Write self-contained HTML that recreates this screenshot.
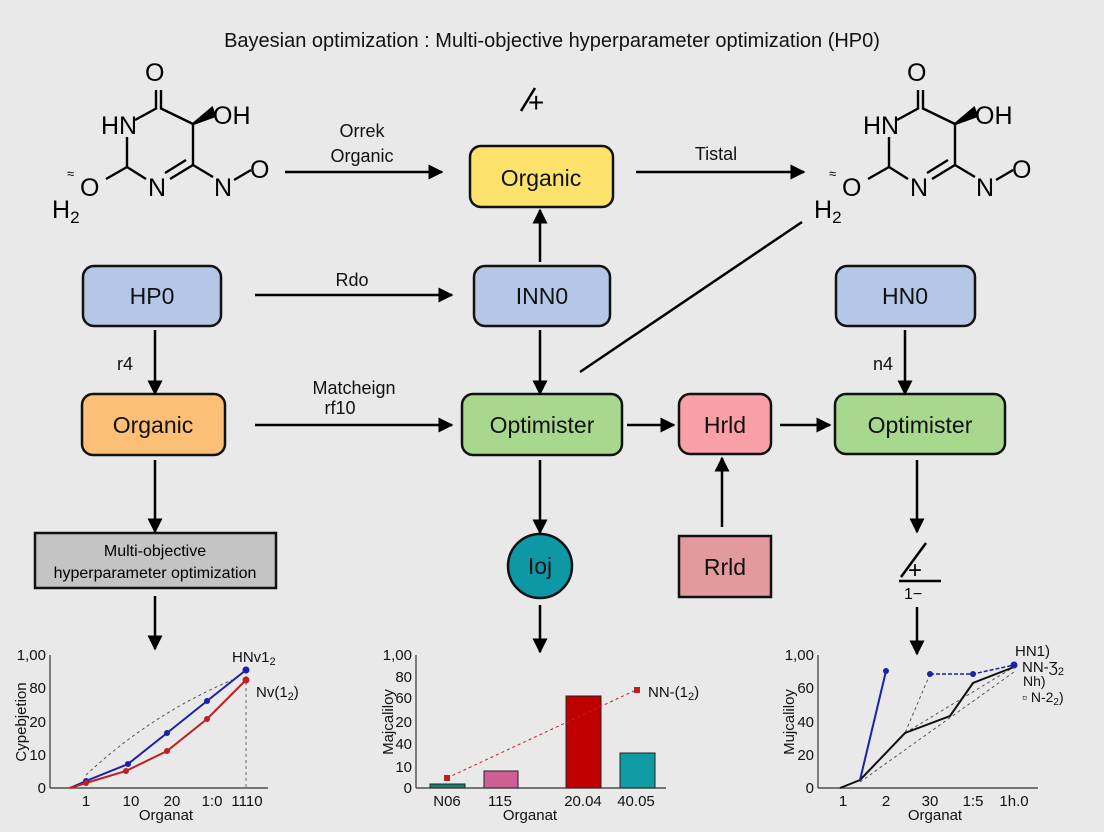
<!DOCTYPE html>
<html><head><meta charset="utf-8"><style>
html,body{margin:0;padding:0;background:#e9e9e9;}
svg{display:block;font-family:"Liberation Sans",sans-serif;}
</style></head><body>
<svg width="1104" height="832" viewBox="0 0 1104 832" xmlns="http://www.w3.org/2000/svg">
<defs>
<marker id="a" viewBox="0 0 10 10" refX="9" refY="5" markerWidth="6" markerHeight="6" orient="auto"><path d="M0,0L10,5L0,10z" fill="#000"/></marker>
</defs>
<rect width="1104" height="832" fill="#e9e9e9"/>
<text x="552" y="47" font-size="20" text-anchor="middle" fill="#111">Bayesian optimization : Multi-objective hyperparameter optimization (HP0)</text>

<g id="mol" stroke="#000" stroke-width="2.4" fill="none">
<line x1="156" y1="90" x2="156" y2="108"/><line x1="161" y1="90" x2="161" y2="108"/>
<line x1="157" y1="108" x2="135" y2="120"/>
<line x1="160" y1="108" x2="193" y2="124"/>
<line x1="193" y1="124" x2="193" y2="165"/>
<line x1="193" y1="165" x2="170" y2="179"/><line x1="186" y1="160" x2="165" y2="173"/>
<line x1="146" y1="179" x2="127" y2="167"/>
<line x1="127" y1="167" x2="127" y2="137"/>
<line x1="127" y1="167" x2="106" y2="179"/>
<line x1="193" y1="165" x2="213" y2="177"/>
<line x1="234" y1="180" x2="251" y2="170"/>
<polygon points="193,124 212,108 215,116" fill="#000"/>
</g>
<g font-size="25" fill="#000">
<text x="145" y="81">O</text><text x="101" y="134">HN</text><text x="213" y="124">OH</text>
<text x="148" y="196">N</text><text x="80" y="196">O</text><text x="214" y="196">N</text>
<text x="250" y="178">O</text><text x="52" y="218">H<tspan font-size="17" dy="5">2</tspan></text>
<text x="67" y="178" font-size="13">≈</text>
</g>
<use href="#mol" x="762"/>
<g font-size="25" fill="#000">
<text x="907" y="81">O</text><text x="863" y="134">HN</text><text x="975" y="124">OH</text>
<text x="910" y="196">N</text><text x="842" y="196">O</text><text x="976" y="196">N</text>
<text x="1012" y="178">O</text><text x="814" y="218">H<tspan font-size="17" dy="5">2</tspan></text>
<text x="829" y="178" font-size="13">≈</text>
</g>

<g stroke="#000" stroke-width="2.5"><line x1="521" y1="111" x2="535" y2="88"/></g>
<text x="528" y="112" font-size="28">+</text>

<g stroke="#111" stroke-width="2.5">
<rect x="470" y="146" width="143" height="61" rx="11" fill="#fde36b"/>
<rect x="83" y="266" width="138" height="60" rx="11" fill="#b4c7e7"/>
<rect x="474" y="266" width="136" height="60" rx="11" fill="#b4c7e7"/>
<rect x="836" y="266" width="139" height="60" rx="11" fill="#b4c7e7"/>
<rect x="82" y="394" width="143" height="61" rx="11" fill="#fbbf75"/>
<rect x="462" y="394" width="160" height="61" rx="11" fill="#a8d88e"/>
<rect x="679" y="394" width="92" height="60" rx="11" fill="#f9a0a6"/>
<rect x="835" y="394" width="170" height="60" rx="11" fill="#a8d88e"/>
<rect x="35" y="533" width="241" height="55" fill="#c4c4c4"/>
<circle cx="540" cy="566" r="32" fill="#0e97a5"/>
<rect x="679" y="536" width="92" height="61" fill="#e29a9c"/>
</g>
<g font-size="23" text-anchor="middle" fill="#111">
<text x="541" y="186">Organic</text>
<text x="152" y="304">HP0</text>
<text x="542" y="304">INN0</text>
<text x="905" y="304">HN0</text>
<text x="153" y="433">Organic</text>
<text x="542" y="433">Optimister</text>
<text x="725" y="433">Hrld</text>
<text x="920" y="433">Optimister</text>
<text x="540" y="574">Ioj</text>
<text x="725" y="575">Rrld</text>
</g>
<text x="155" y="556" font-size="16" text-anchor="middle">Multi-objective</text>
<text x="155" y="578" font-size="16" text-anchor="middle">hyperparameter optimization</text>

<g stroke="#000" stroke-width="2.5" marker-end="url(#a)">
<line x1="285" y1="172" x2="442" y2="172"/>
<line x1="636" y1="172" x2="804" y2="172"/>
<line x1="255" y1="295" x2="452" y2="295"/>
<line x1="540" y1="262" x2="540" y2="210"/>
<line x1="540" y1="330" x2="540" y2="394"/>
<line x1="155" y1="330" x2="155" y2="394"/>
<line x1="905" y1="330" x2="905" y2="394"/>
<line x1="255" y1="425" x2="452" y2="425"/>
<line x1="627" y1="425" x2="674" y2="425"/>
<line x1="780" y1="425" x2="830" y2="425"/>
<line x1="155" y1="460" x2="155" y2="532"/>
<line x1="540" y1="460" x2="540" y2="533"/>
<line x1="722" y1="527" x2="722" y2="458"/>
<line x1="917" y1="460" x2="917" y2="532"/>
<line x1="155" y1="596" x2="155" y2="649"/>
<line x1="540" y1="605" x2="540" y2="652"/>
<line x1="917" y1="607" x2="917" y2="654"/>
</g>
<line x1="580" y1="372" x2="802" y2="222" stroke="#000" stroke-width="2.5"/>
<g font-size="18" fill="#111" text-anchor="middle">
<text x="362" y="137">Orrek</text><text x="362" y="162">Organic</text>
<text x="716" y="160">Tistal</text>
<text x="352" y="286">Rdo</text>
<text x="354" y="394">Matcheign</text><text x="340" y="414">rf10</text>
<text x="125" y="370">r4</text><text x="883" y="370">n4</text>
</g>
<g stroke="#000" stroke-width="2.5"><line x1="901" y1="577" x2="926" y2="543"/><line x1="899" y1="581" x2="941" y2="581"/></g>
<text x="908" y="578" font-size="24">+</text>
<text x="904" y="599" font-size="16">1−</text>

<g font-size="15" fill="#111">
<line x1="50" y1="655" x2="50" y2="788" stroke="#333" stroke-width="1.2"/>
<line x1="50" y1="788" x2="268" y2="788" stroke="#333" stroke-width="1.2"/>
<g text-anchor="end"><text x="46" y="660">1,00</text><text x="46" y="693">80</text><text x="46" y="727">20</text><text x="46" y="760">10</text><text x="46" y="793">0</text></g>
<g text-anchor="middle"><text x="86" y="806">1</text><text x="131" y="806">10</text><text x="172" y="806">20</text><text x="212" y="806">1:0</text><text x="247" y="806">1110</text>
<text x="166" y="820">Organat</text></g>
<text transform="translate(26,722) rotate(-90)" text-anchor="middle">Cypebjetion</text>
<path d="M86,775 Q150,715 232,680" stroke="#555" stroke-dasharray="3,3" fill="none"/>
<line x1="246" y1="670" x2="246" y2="788" stroke="#666" stroke-dasharray="3,3"/>
<polyline points="70,788 86,781 128,764 167,733 207,701 246,670" stroke="#1a22a8" stroke-width="2" fill="none"/>
<polyline points="70,788 86,783 126,771 167,751 207,719 246,680" stroke="#c01f1f" stroke-width="2" fill="none"/>
<g fill="#1a22a8"><circle cx="86" cy="781" r="3"/><circle cx="128" cy="764" r="3"/><circle cx="167" cy="733" r="3"/><circle cx="207" cy="701" r="3"/><circle cx="246" cy="670" r="3.5"/></g>
<g fill="#c01f1f"><circle cx="86" cy="783" r="3"/><circle cx="126" cy="771" r="3"/><circle cx="167" cy="751" r="3"/><circle cx="207" cy="719" r="3"/><circle cx="246" cy="680" r="3.5"/></g>
<text x="232" y="662">HNv1<tspan font-size="11" dy="3">2</tspan></text>
<text x="256" y="697">Nv(1<tspan font-size="11" dy="3">2</tspan><tspan dy="-3">)</tspan></text>
</g>

<g font-size="15" fill="#111">
<line x1="416" y1="655" x2="416" y2="788" stroke="#333" stroke-width="1.2"/>
<line x1="416" y1="788" x2="666" y2="788" stroke="#333" stroke-width="1.2"/>
<g text-anchor="end"><text x="412" y="660">1,00</text><text x="412" y="682">80</text><text x="412" y="703">60</text><text x="412" y="727">20</text><text x="412" y="749">40</text><text x="412" y="772">10</text><text x="412" y="793">0</text></g>
<rect x="430" y="784" width="35" height="4" fill="#1e7d6e" stroke="#222"/>
<rect x="484" y="771" width="34" height="17" fill="#cf5f92" stroke="#222"/>
<rect x="566" y="696" width="35" height="92" fill="#c00000" stroke="#222"/>
<rect x="620" y="753" width="35" height="35" fill="#109aa3" stroke="#222"/>
<line x1="447" y1="778" x2="636" y2="690" stroke="#c01f1f" stroke-dasharray="3,3"/>
<rect x="444" y="775" width="6" height="6" fill="#c01f1f"/><rect x="634" y="687" width="6" height="6" fill="#c01f1f"/>
<text x="648" y="697">NN-(1<tspan font-size="11" dy="3">2</tspan><tspan dy="-3">)</tspan></text>
<g text-anchor="middle"><text x="447" y="806">N06</text><text x="500" y="806">115</text><text x="583" y="806">20.04</text><text x="636" y="806">40.05</text><text x="530" y="820">Organat</text></g>
<text transform="translate(393,722) rotate(-90)" text-anchor="middle">Majcaliloy</text>
</g>

<g font-size="15" fill="#111">
<line x1="818" y1="655" x2="818" y2="788" stroke="#333" stroke-width="1.2"/>
<line x1="818" y1="788" x2="1038" y2="788" stroke="#333" stroke-width="1.2"/>
<g text-anchor="end"><text x="814" y="660">1,00</text><text x="814" y="693">60</text><text x="814" y="727">40</text><text x="814" y="760">20</text><text x="814" y="793">0</text></g>
<g text-anchor="middle"><text x="843" y="806">1</text><text x="886" y="806">2</text><text x="930" y="806">30</text><text x="973" y="806">1:5</text><text x="1014" y="806">1h.0</text><text x="935" y="820">Organat</text></g>
<text transform="translate(794,722) rotate(-90)" text-anchor="middle">Mujcaliloy</text>
<g stroke="#555" stroke-dasharray="3,3" fill="none"><polyline points="860,780 905,733 930,674"/><line x1="860" y1="782" x2="1014" y2="672"/><line x1="905" y1="733" x2="1014" y2="667"/></g>
<polyline points="840,788 860,780 905,733 950,716 973,683 1014,667" stroke="#111" stroke-width="2" fill="none"/>
<line x1="860" y1="780" x2="886" y2="671" stroke="#1a22a8" stroke-width="2"/>
<polyline points="930,674 973,674 1014,665" stroke="#1a22a8" stroke-width="1.5" stroke-dasharray="4,2" fill="none"/>
<g fill="#1a22a8"><circle cx="886" cy="671" r="3"/><circle cx="930" cy="674" r="3"/><circle cx="973" cy="674" r="3"/><circle cx="1014" cy="665" r="3.5"/></g>
<text x="1015" y="656">HN1)</text>
<text x="1022" y="672">NN-Ʒ<tspan font-size="11" dy="3">2</tspan></text>
<text x="1023" y="686" font-size="14">Nh)</text>
<text x="1022" y="702" font-size="14">▫ N-2<tspan font-size="10" dy="3">2</tspan><tspan dy="-3">)</tspan></text>
</g>
</svg>
</body></html>
